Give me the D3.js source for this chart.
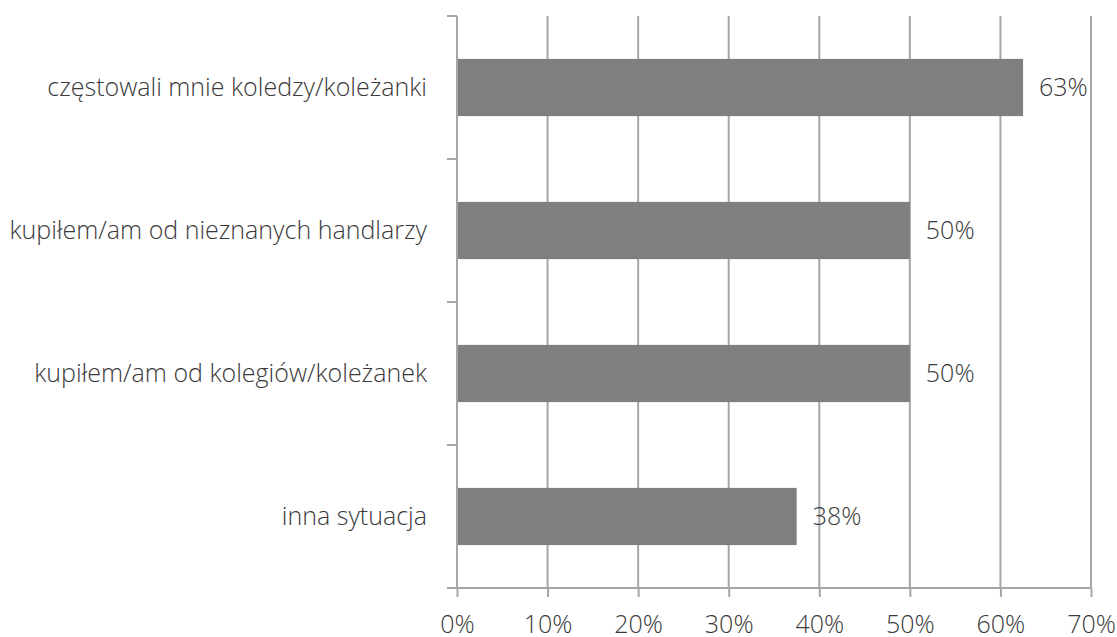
<!DOCTYPE html>
<html><head><meta charset="utf-8">
<script src="https://cdn.jsdelivr.net/npm/d3@7"></script>
<style>
body{margin:0;background:#fff;}
text{font-family:"Open Sans","Noto Sans",sans-serif;font-weight:300;fill:#3a3a3a;}
</style></head><body>
<svg id="c" width="1117" height="637"></svg>
<script>
const categories = ["częstowali mnie koledzy/koleżanki","kupiłem/am od nieznanych handlarzy","kupiłem/am od kolegiów/koleżanek","inna sytuacja"];
const values = [62.5, 50, 50, 37.5];
const valueLabels = ["63%","50%","50%","38%"];
const xTicks = [0,10,20,30,40,50,60,70];

(function(){
const svg = d3.select("#c");
const pLeft = 457, pRight = 1091, pTop = 16, pBottom = 588;
const fs = "25px";
const x = d3.scaleLinear().domain([0,70]).range([pLeft,pRight]);
const y = d3.scaleBand().domain(categories).range([pTop,pBottom]).paddingInner(0.6).paddingOuter(0.3);
const gridColor = "#a6a6a6";

svg.append("g").selectAll("line").data(xTicks.slice(1)).join("line")
  .attr("x1",d=>x(d)).attr("x2",d=>x(d)).attr("y1",pTop).attr("y2",pBottom)
  .attr("stroke",gridColor).attr("stroke-width",2);

svg.append("g").selectAll("rect").data(categories).join("rect")
  .attr("x",x(0)).attr("y",d=>y(d)).attr("width",(d,i)=>x(values[i])-x(0)).attr("height",y.bandwidth())
  .attr("fill","#7f7f7f");

const xAxis = svg.append("g").attr("transform",`translate(0,${pBottom})`)
  .call(d3.axisBottom(x).tickValues(xTicks).tickFormat(d=>d+"%").tickSize(9).tickPadding(0));
xAxis.attr("font-family",null).attr("font-size",null);
xAxis.select(".domain").attr("stroke",gridColor).attr("stroke-width",2).attr("d",`M${pLeft-10},0H${pRight}`);
xAxis.selectAll(".tick line").attr("stroke",gridColor).attr("stroke-width",2);
xAxis.selectAll(".tick text").style("font-size",fs).attr("fill",null).attr("y",45).attr("dy",null);

const step = (pBottom-pTop)/categories.length;
const bounds = d3.range(categories.length+1).map(i=>pTop+i*step);
svg.append("line").attr("x1",pLeft).attr("x2",pLeft).attr("y1",pTop).attr("y2",pBottom)
  .attr("stroke",gridColor).attr("stroke-width",2);
svg.append("g").selectAll("line").data(bounds).join("line")
  .attr("x1",pLeft-10).attr("x2",pLeft).attr("y1",d=>d).attr("y2",d=>d)
  .attr("stroke",gridColor).attr("stroke-width",2);

svg.append("g").selectAll("text").data(categories).join("text")
  .attr("x",pLeft-30).attr("y",d=>y(d)+y.bandwidth()/2).attr("dy","0.35em")
  .attr("text-anchor","end").style("font-size",fs).text(d=>d);

svg.append("g").selectAll("text").data(categories).join("text")
  .attr("x",(d,i)=>x(values[i])+16).attr("y",d=>y(d)+y.bandwidth()/2).attr("dy","0.35em")
  .style("font-size",fs).text((d,i)=>valueLabels[i]);
})();
</script></body></html>
